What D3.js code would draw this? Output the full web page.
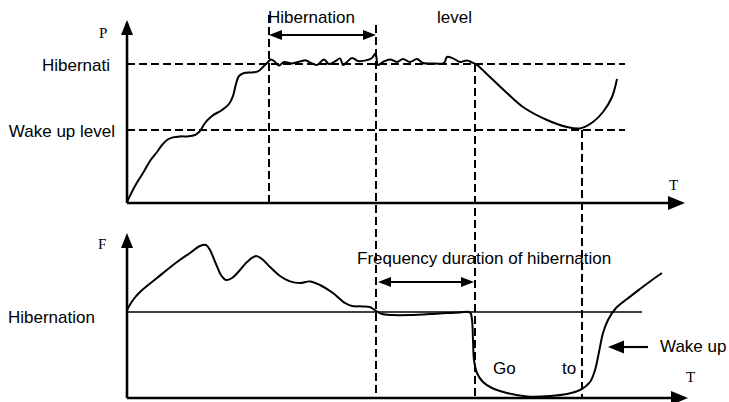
<!DOCTYPE html>
<html>
<head>
<meta charset="utf-8">
<script src="https://cdn.jsdelivr.net/npm/d3@7"></script>
<style>
  html, body { margin: 0; padding: 0; background: #fff; }
  svg { display: block; }
</style>
</head>
<body>
<svg id="chart" width="729" height="402"></svg>
<script>
// ---- data (arbitrary units) ----
// Shared time axis for both panels
const timeDomain = [0, 112];

// Upper panel: power P over time
const pTime = [0, 1.6, 3.2, 4.6, 6, 7, 8, 9.2, 10.6, 12.2, 13.6, 14.6, 15.6, 17, 19, 20.4, 21.2, 21.8, 22.4, 23.4,
  25, 26.2, 27.2, 28.2, 28.8, 29.6, 30.4, 31.4, 33, 34.6, 35.8, 36.8, 38, 39.4, 40.4, 41.6, 42.6, 43.2, 44, 45,
  46.2, 47.8, 49, 49.7, 50.2, 51.2, 52.6, 54, 55.2, 56.6, 58, 59.2, 61, 63.4, 64, 65.2, 66.6, 68, 69, 70,
  72.6, 76, 79.2, 84, 88, 90.6, 93.2, 95.2, 97, 98];
const pValue = [0.5, 8.5, 15, 21, 25.5, 29, 31.5, 32.8, 33.3, 33.3, 34, 36, 40, 43.5, 46.5, 49.5, 53.5, 59.5, 63.5, 65,
  65.3, 65.8, 68, 70.5, 71.8, 70.5, 68.8, 70.5, 69.8, 70.8, 71.3, 70, 69, 71.8, 69.5, 70.8, 72.3, 69, 70.5, 72.5,
  71, 71.3, 72.5, 74.8, 69, 70.5, 71.8, 70.5, 72, 70.5, 72, 70, 69.8, 70, 73, 72.3, 70.5, 71.3, 70.3, 69,
  63, 55, 48, 41.5, 38, 37.3, 40.5, 45.5, 53, 62];
const pLevels = [69.5, 36.5];                 // hibernation level, wake-up level
const pLevelLabels = ["Hibernati", "Wake up level"];
const pLevelEnd = 99.6;

// Lower panel: frequency F over time
const fTime = [0, 1.2, 2.6, 6, 10, 12.6, 14.6, 15.8, 16.6, 17.8, 18.8, 19.8, 21, 22.6, 24, 25.8, 27, 28.6, 30.6, 32.6,
  34.6, 36.6, 38.6, 41.2, 43.6, 45, 47, 48.6, 49.8, 51, 53, 56.6, 62.6, 66.6, 68.6, 69, 69.2, 69.4, 70, 71.2,
  73, 76, 80, 84.6, 88, 90.6, 92.6, 93.6, 94.4, 95.2, 96.2, 97.8, 100, 102.6, 105, 107];
const fValue = [44, 49, 53, 60, 68, 72.5, 76, 76.5, 74, 67, 61.5, 59, 60, 64, 68, 71, 69.5, 65.5, 61, 58.3,
  57.5, 58.3, 56.5, 52.5, 47.5, 46, 45.8, 45.5, 43.5, 42, 41.5, 41.5, 42.3, 42.8, 42.8, 39, 29, 19, 12.5, 8,
  5, 2.5, 0.8, 1, 2, 4, 8, 14, 23, 32.5, 39, 45, 49.5, 54.5, 59, 62.5];
const fHibernation = 43;
const fHibernationEnd = 103;

// Event times: hibernation entered, hibernation confirmed, go to sleep, wake up
const markerTimes = [28.4, 49.8, 69.6, 91];

// Text
const topSpanLabels = ["Hibernation", "level"];
const spanLabel = "Frequency duration of hibernation";
const lowerLevelLabel = "Hibernation";
const wakeLabel = "Wake up";
const sleepWords = ["Go", "to"];
const axisNames = { p: "P", f: "F", t: "T" };

// ---- scales ----
const x = d3.scaleLinear().domain(timeDomain).range([127, 687]);
const yP = d3.scaleLinear().domain([0, 90]).range([203, 23]);
const yF = d3.scaleLinear().domain([0, 80]).range([398, 238]);

const svg = d3.select("#chart");
const sans = "'Liberation Sans', Arial, Helvetica, sans-serif";
const serif = "'Liberation Serif', 'Times New Roman', serif";

// filled triangular arrowhead with its tip at (tx, ty), pointing along angle (radians)
function arrowHead(tx, ty, angle, len, half) {
  const c = Math.cos(angle), s = Math.sin(angle);
  const bx = tx - c * len, by = ty - s * len;
  const pts = [[tx, ty], [bx - s * half, by + c * half], [bx + s * half, by - c * half]];
  svg.append("path").attr("d", d3.line()(pts) + "Z").attr("fill", "#000");
}
function segment(x1, y1, x2, y2, w, dash) {
  const l = svg.append("line").attr("x1", x1).attr("y1", y1).attr("x2", x2).attr("y2", y2)
    .attr("stroke", "#000").attr("stroke-width", w);
  if (dash) l.attr("stroke-dasharray", dash);
  return l;
}

// ---- dashed guides ----
const dash = "8,4";
pLevels.forEach(v => segment(x(0), yP(v), x(pLevelEnd), yP(v), 2, dash));
// vertical event markers
segment(x(markerTimes[0]), yP(94), x(markerTimes[0]), yP(0), 2, dash);
segment(x(markerTimes[1]), yP(89), x(markerTimes[1]), yF(0), 2, dash);
segment(x(markerTimes[2]), yP(pLevels[0]), x(markerTimes[2]), yF(0), 2, dash);
segment(x(markerTimes[3]), yP(pLevels[1]), x(markerTimes[3]), yF(0), 2, dash);

// ---- lower hibernation line ----
segment(x(0), yF(fHibernation), x(fHibernationEnd), yF(fHibernation), 1.5);

// ---- curves ----
const curve = d3.curveCatmullRom.alpha(0.5);
const pLine = d3.line().x((d, i) => x(pTime[i])).y(d => yP(d)).curve(curve);
svg.append("path").attr("d", pLine(pValue)).attr("fill", "none")
  .attr("stroke", "#000").attr("stroke-width", 2);
const fLine = d3.line().x((d, i) => x(fTime[i])).y(d => yF(d)).curve(curve);
svg.append("path").attr("d", fLine(fValue)).attr("fill", "none")
  .attr("stroke", "#000").attr("stroke-width", 2);

// ---- axes ----
// upper
segment(x(0), yP(0), x(0), yP(90), 2.6);
arrowHead(x(0), yP(91.5), -Math.PI / 2, 15, 6);
segment(x(0), yP(0), x(110), yP(0), 2.6);
arrowHead(x(111.6), yP(0), 0, 17, 7);
// lower
segment(x(0), yF(0), x(0), yF(80), 2.6);
arrowHead(x(0), yF(82.5), -Math.PI / 2, 15, 6);
segment(x(0), yF(0), x(110), yF(0), 2.6);
arrowHead(x(112.2), yF(0), 0, 17, 7);

// ---- double-headed span arrows ----
function spanArrow(t1, t2, y) {
  segment(x(t1) + 8, y, x(t2) - 8, y, 2.2);
  arrowHead(x(t1), y, Math.PI, 13, 5);
  arrowHead(x(t2), y, 0, 13, 5);
}
spanArrow(markerTimes[0], markerTimes[1], yP(84));
spanArrow(50.2, 69.4, yF(58));

// wake-up pointer
segment(x(104.2), yF(25.5), x(96.2) + 12, yF(25.5), 2.2);
arrowHead(x(96.2), yF(25.5), Math.PI, 16, 6.5);

// ---- text ----
function text(str, tx, ty, opts = {}) {
  svg.append("text").text(str).attr("x", tx).attr("y", ty)
    .attr("font-family", opts.family || sans)
    .attr("font-size", opts.size || 17)
    .attr("text-anchor", opts.anchor || "start")
    .attr("fill", "#000");
}
text(axisNames.p, 99, 38, { family: serif, size: 15 });
text(axisNames.f, 98, 249, { family: serif, size: 15 });
text(axisNames.t, 669, 190, { family: serif, size: 15 });
text(axisNames.t, 686, 382, { family: serif, size: 15 });

text(pLevelLabels[0], 110, yP(pLevels[0]) + 7, { anchor: "end" });
text(pLevelLabels[1], 115, yP(pLevels[1]) + 7, { anchor: "end" });
text(topSpanLabels[0], 268, 23);
text(topSpanLabels[1], 437, 23);

text(spanLabel, 357, 264);
text(lowerLevelLabel, 8, 323);
text(wakeLabel, 660, 352);
text(sleepWords[0], 493, 374);
text(sleepWords[1], 562, 374);
</script>
</body>
</html>
